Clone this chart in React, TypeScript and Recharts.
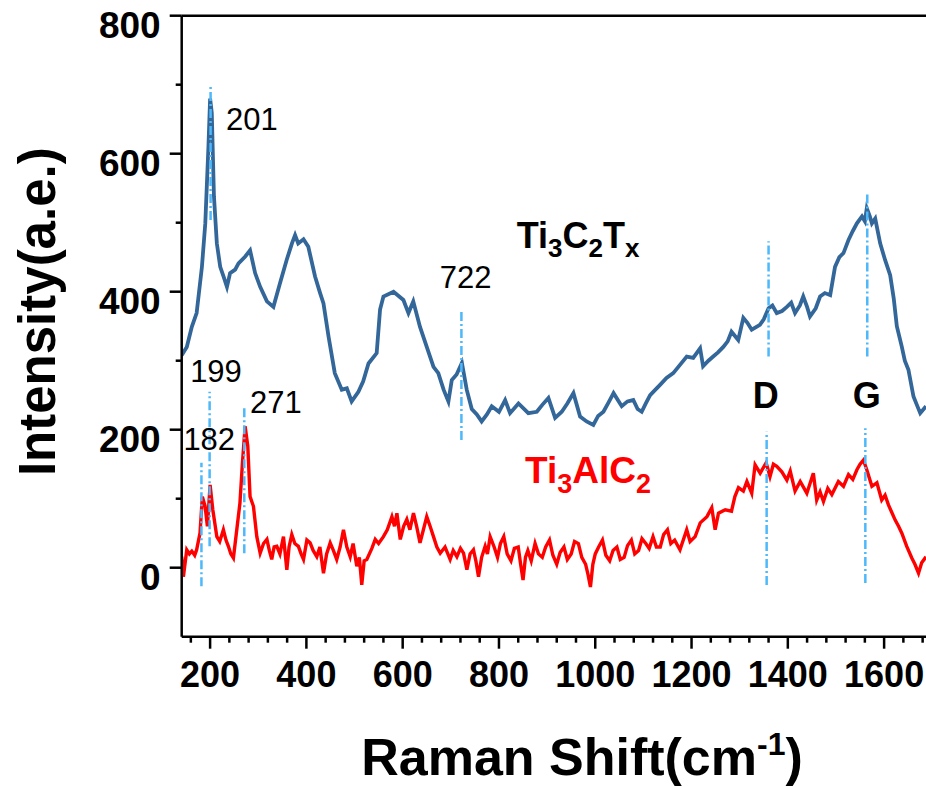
import React from 'react';
import { LineChart, Line, XAxis, YAxis, ReferenceLine, ReferenceDot } from 'recharts';

// Ti3C2Tx (blue) spectrum
const mxeneShift = [
  141, 151.6, 162, 172, 183, 190, 196.5, 200, 203.5, 208, 214, 221, 228, 235, 241.5, 252, 259, 273, 283, 293.5,
  304, 318, 331.5, 345, 359, 370, 376.5, 383, 394, 404, 418, 428.5, 435.5, 446, 459, 473.5, 484, 494, 508, 518,
  529, 546, 553, 560, 581, 601.5, 612, 622, 636, 650, 664, 674, 685, 695, 702, 712, 723, 733, 743.5, 754,
  764, 775, 785, 800, 812.8, 823, 840.5, 861, 878.6, 890, 902.7, 916.6, 930.5, 942, 954.7, 968.5, 982, 996, 1006, 1017,
  1028, 1038, 1055, 1067, 1079, 1088, 1096.5, 1105, 1114, 1125, 1134.6, 1148, 1162, 1176, 1190, 1203.5, 1217.8, 1224, 1235, 1245,
  1255, 1266, 1275, 1283, 1297, 1307.6, 1316, 1325, 1342, 1350, 1360, 1368, 1377, 1388, 1398, 1407, 1415, 1425, 1432, 1440,
  1446, 1458, 1467, 1477, 1488, 1498, 1507, 1515.6, 1526, 1535, 1543.5, 1554, 1560, 1564, 1570, 1574.6, 1581.5, 1591.8, 1602, 1612.6,
  1620, 1626.4, 1636.8, 1643, 1650.5, 1661, 1668, 1675, 1687,
];
const mxeneIntensity = [
  308, 320, 349, 369, 436, 499, 610, 680, 659, 538, 470, 436, 422, 407, 427, 432, 441, 451, 460, 427,
  407, 386, 378, 412, 446, 470, 482, 470, 476, 465, 422, 398, 383, 335, 282, 258, 260, 241, 255, 270,
  296, 311, 374, 393, 400, 388, 369, 386, 349, 320, 291, 282, 258, 241, 272, 280, 297, 258, 230, 222,
  212, 222, 234, 226, 243, 224, 238, 224, 226, 236, 246, 217, 226, 238, 253, 219, 212, 207, 220, 226,
  240, 253, 234, 241, 243, 230, 226, 238, 250, 258, 265, 275, 282, 294, 306, 304, 318, 292, 300, 306,
  312, 320, 328, 342, 330, 362, 355, 345, 352, 360, 376, 380, 369, 372, 378, 384, 369, 380, 393, 378,
  364, 376, 393, 398, 395, 436, 450, 456, 475, 488, 499, 509, 502, 521, 510, 499, 506, 470, 446, 424,
  390, 350, 320, 300, 287, 248, 236, 224, 234,
];

// Ti3AlC2 (red) spectrum
const maxShift = [
  141, 144.5, 151.5, 157, 162, 168, 172, 179, 183.9, 189.6, 194.4, 200, 205.6, 214, 220, 227.6, 233, 238, 243, 248.4,
  255.4, 262, 267, 272.7, 278.3, 283, 290, 297, 304, 311, 318, 323, 328, 333, 338.6, 345, 352.4, 359.4, 364, 369.7,
  376, 383.4, 389, 394, 401, 407.7, 414, 421.6, 428, 435.5, 442, 449.4, 456, 463, 470, 477, 484, 491, 497, 504.7,
  510, 515, 520, 525.5, 536, 543, 550, 560, 568, 577.6, 583, 588, 595, 602, 608.6, 615, 622.4, 629, 636, 643,
  650, 657, 664, 671, 678, 688, 698.6, 705, 712.6, 720, 726.4, 733.4, 740, 747, 752, 757.5, 764, 771.3, 776, 781.7,
  790, 797, 803, 810, 817, 825, 832, 840, 845, 850, 855, 860, 867, 875, 882, 890, 897, 905, 912, 920,
  927, 935, 942, 950, 957, 965, 972, 980, 985, 990, 995, 1000, 1007, 1015, 1022, 1030, 1037, 1045, 1052, 1060,
  1067, 1075, 1082, 1090, 1097, 1105, 1112, 1120, 1127, 1135, 1142, 1150, 1157, 1165,
  1176, 1190, 1197, 1207.5, 1218, 1232, 1242, 1249, 1256, 1270, 1283, 1290, 1297.5,
  1307.6, 1315, 1325, 1332, 1342.5, 1355, 1363, 1370, 1377, 1387.6, 1398, 1405, 1415, 1425.7, 1439.5, 1453, 1460, 1467, 1474, 1483,
  1491.4, 1505, 1515.6, 1526, 1535, 1543.5, 1550, 1557, 1564, 1574.6, 1585, 1595, 1602, 1609, 1616, 1623, 1630, 1636.8, 1647, 1657.5,
  1664, 1671.5, 1678, 1687,
];
const maxIntensity = [
  16, -13, 26, 20, 24, 18, 26, 50, 103, 89, 60, 120, 84, 45, 38, 55, 40, 31, 20, 14,
  55, 94, 150, 205, 176, 103, 89, 45, 21, 35, 41, 25, 12, 30, 31, 20, 45, -3, 30, 48,
  35, 31, 20, 12, 40, 36, 25, 16, 30, -8, 20, 36, 25, 12, 30, 55, 30, 16, 35, 2,
  15, -25, 10, 12, 28, 41, 35, 45, 55, 74, 60, 79, 41, 60, 70, 55, 79, 60, 36, 55,
  74, 60, 45, 30, 21, 30, 12, 25, 16, 28, 21, -3, 20, 26, 10, -13, 15, 31, 20, 45,
  30, 15, 35, 45, 20, 10, 28, 30, 5, -18, 15, 25, 10, 35, 20, 15, 30, 40, 18, 5,
  22, 30, 12, 20, 38, 35, 15, 5, -10, -28, 5, 20, 30, 40, 18, 10, 25, 30, 12, 15,
  32, 40, 20, 25, 42, 35, 28, 45, 30, 30, 48, 55, 35, 40,
  26, 55, 38, 45, 65, 74, 87, 55, 79, 84, 82, 103, 116,
  111, 125, 108, 149, 137, 152, 132, 150, 147, 139, 127, 140, 111, 125, 108, 137, 98, 110, 96, 115,
  106, 125, 118, 135, 128, 142, 150, 156, 142, 118, 123, 98, 105, 91, 80, 69, 60, 50, 31, 14,
  5, -8, 7, 16,
];

// peak markers: [shift, from, to]
const peakMarks: [number, number, number][] = [
  [201, 504, 700],
  [722, 185, 374],
  [182, -27, 152],
  [199, 31, 255],
  [271, 21, 234],
  [1360, 306, 473],
  [1565, 306, 545],
  [1356, -25, 197],
  [1561, -22, 202],
];

const xTicks = Array.from({ length: 39 }, (_, i) => 160 + i * 40);
const yTicks = [0, 100, 200, 300, 400, 500, 600, 700, 800];

const mxeneData = mxeneShift.map((x, i) => ({ x, y: mxeneIntensity[i] }));
const maxData = maxShift.map((x, i) => ({ x, y: maxIntensity[i] }));

const FONT = 'Arial, "Liberation Sans", sans-serif';
const TICK = 12;

const XTick = (props: any) => {
  const { x, y, payload } = props;
  const major = payload.value % 200 === 0;
  const ay = y - TICK;
  return (
    <g>
      <line x1={x} x2={x} y1={ay} y2={ay + (major ? 12 : 6)} stroke="#000" strokeWidth={2.5} />
      {major && (
        <text x={x} y={ay + 50} textAnchor="middle" fontSize={36} fontWeight="bold" fontFamily={FONT} fill="#000">
          {payload.value}
        </text>
      )}
    </g>
  );
};

const YTick = (props: any) => {
  const { x, y, payload } = props;
  const major = payload.value % 200 === 0;
  const ax = x + TICK;
  return (
    <g>
      <line x1={ax - (major ? 12 : 6)} x2={ax} y1={y} y2={y} stroke="#000" strokeWidth={2.5} />
      {major && (
        <text x={ax - 21} y={y + 22} textAnchor="end" fontSize={37} fontWeight="bold" fontFamily={FONT} fill="#000">
          {payload.value}
        </text>
      )}
    </g>
  );
};

const Note = ({ cx, cy, children, size = 31, weight = 'normal', color = '#000' }: any) => (
  <text x={cx} y={cy} fontSize={size} fontWeight={weight} fontFamily={FONT} fill={color}>
    {children}
  </text>
);

export default function App() {
  return (
    <div style={{ position: 'absolute', left: 0, top: 0, width: 926, height: 787, overflow: 'hidden', background: '#fff' }}>
      <LineChart width={926} height={787} margin={{ top: 15.7, right: 0, bottom: 0, left: 0 }}>
        <XAxis
          type="number"
          dataKey="x"
          domain={[141, 1687]}
          ticks={xTicks}
          interval={0}
          allowDataOverflow
          height={150.3}
          tickSize={TICK}
          tickMargin={0}
          tickLine={false}
          axisLine={{ stroke: '#000', strokeWidth: 2.5 }}
          tick={<XTick />}
        />
        <YAxis
          type="number"
          domain={[-100, 800]}
          ticks={yTicks}
          interval={0}
          allowDataOverflow
          width={181.7}
          tickSize={TICK}
          tickMargin={0}
          tickLine={false}
          axisLine={{ stroke: '#000', strokeWidth: 2.5 }}
          tick={<YTick />}
        />
        <ReferenceLine y={800} stroke="#000" strokeWidth={2.5} />
        <Line data={mxeneData} dataKey="y" stroke="#336699" strokeWidth={3.8} dot={false} isAnimationActive={false} />
        <Line data={maxData} dataKey="y" stroke="#ff0000" strokeWidth={3.4} dot={false} isAnimationActive={false} />
        {peakMarks.map(([x, a, b], i) => (
          <ReferenceLine
            key={i}
            segment={[{ x, y: a }, { x, y: b }]}
            stroke="#4db8fa"
            strokeWidth={2.5}
            strokeDasharray="9 3 2 3"
            ifOverflow="visible"
          />
        ))}
        <ReferenceDot x={233} y={634} r={0} shape={(p: any) => <Note {...p}>201</Note>} />
        <ReferenceDot x={677} y={405} r={0} shape={(p: any) => <Note {...p}>722</Note>} />
        <ReferenceDot x={158.5} y={269} r={0} shape={(p: any) => <Note {...p}>199</Note>} />
        <ReferenceDot x={283} y={224.5} r={0} shape={(p: any) => <Note {...p}>271</Note>} />
        <ReferenceDot x={144.5} y={171} r={0} shape={(p: any) => <Note {...p}>182</Note>} />
        <ReferenceDot x={1327} y={231} r={0} shape={(p: any) => <Note {...p} size={36} weight="bold">D</Note>} />
        <ReferenceDot x={1535} y={231} r={0} shape={(p: any) => <Note {...p} size={36} weight="bold">G</Note>} />
        <ReferenceDot
          x={837}
          y={463}
          r={0}
          shape={(p: any) => (
            <Note {...p} size={36} weight="bold">
              Ti<tspan fontSize={26} dy={9}>3</tspan>
              <tspan dy={-9}>C</tspan><tspan fontSize={26} dy={9}>2</tspan>
              <tspan dy={-9}>T</tspan><tspan fontSize={26} dy={9}>x</tspan>
            </Note>
          )}
        />
        <ReferenceDot
          x={854}
          y={122.6}
          r={0}
          shape={(p: any) => (
            <Note {...p} size={37} weight="bold" color="#ff0000">
              Ti<tspan fontSize={27} dy={10}>3</tspan>
              <tspan dy={-10}>AlC</tspan><tspan fontSize={27} dy={10}>2</tspan>
            </Note>
          )}
        />
        <text x={55} y={311.7} transform="rotate(-90 55 311.7)" textAnchor="middle" fontSize={51} fontWeight="bold" fontFamily={FONT} fill="#000">
          Intensity(a.e.)
        </text>
        <text x={582} y={775} textAnchor="middle" fontSize={52} fontWeight="bold" fontFamily={FONT} fill="#000">
          Raman Shift(cm<tspan fontSize={32} dy={-20}>-1</tspan><tspan dy={20}>)</tspan>
        </text>
      </LineChart>
    </div>
  );
}
